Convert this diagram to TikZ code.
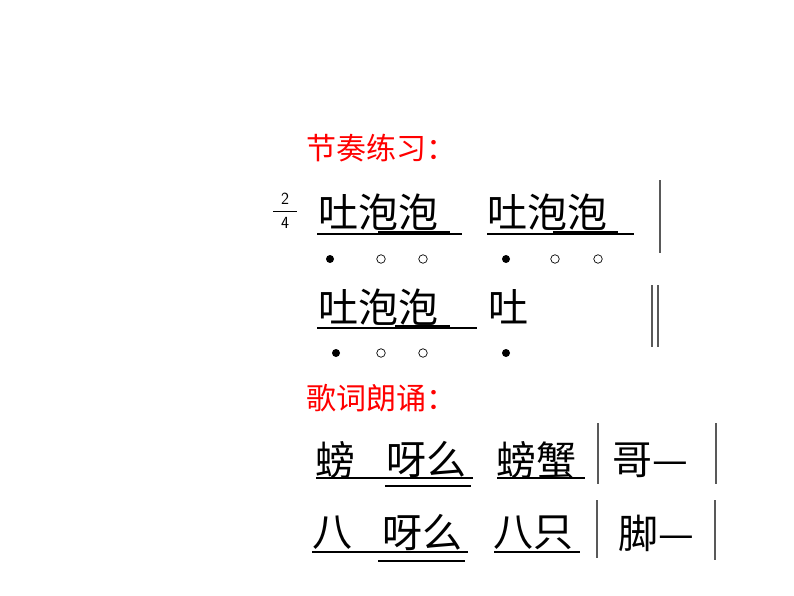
\documentclass[tikz,border=0pt]{standalone}
\usepackage{fontspec}
\newfontfamily\cjk{Noto Sans CJK SC}
\begin{document}
\begin{tikzpicture}[x=1pt,y=-1pt,
  big/.style={inner sep=0pt,anchor=west,font=\cjk\fontsize{40}{40}\selectfont},
  ttl/.style={inner sep=0pt,anchor=west,text=red,font=\cjk\fontsize{30}{30}\selectfont},
  ul/.style={line width=1.3pt},
  tk/.style={line width=2.6pt},
  bar/.style={line width=1.2pt,gray!70!black},
  fd/.style={circle,fill=black,inner sep=0pt,minimum size=8pt},
  od/.style={circle,draw=black,line width=0.7pt,inner sep=0pt,minimum size=8.5pt}]
\useasboundingbox (0,0) rectangle (794,596);
\node[ttl] (t1) at (306,148) {节奏练习：};
\node[inner sep=0pt,font=\sffamily\fontsize{17}{17}\selectfont] (n2) at (285,199) {2};
\node[inner sep=0pt,font=\sffamily\fontsize{17}{17}\selectfont] (n4) at (285,223) {4};
\draw[line width=0.8pt] (273,211) -- (297,211);
% row 1
\node[big] (a1) at (318,212) {吐泡泡};
\node[big] (a2) at (487,212) {吐泡泡};
\draw[ul] (317,234) -- (462,234); \draw[tk] (378,232) -- (450,232);
\draw[ul] (487,234) -- (634,234); \draw[tk] (553,232) -- (618,232);
\draw[bar] (660,180) -- (660,253);
\node[fd] (d1) at (330,259) {}; \node[od] (d2) at (381,259) {}; \node[od] (d3) at (423,259) {};
\node[fd] (d4) at (506,259) {}; \node[od] (d5) at (555,259) {}; \node[od] (d6) at (598,259) {};
% row 2
\node[big] (b1) at (318,307) {吐泡泡};
\node[big] (b2) at (488,307) {吐};
\draw[ul] (317,328) -- (477,328); \draw[tk] (395,326) -- (450,326);
\draw[bar] (652,285) -- (652,347); \draw[bar] (658,285) -- (658,347);
\node[fd] (e1) at (336,353) {}; \node[od] (e2) at (381,353) {}; \node[od] (e3) at (423,353) {};
\node[fd] (e4) at (506,353) {};
% lyrics
\node[ttl] (t2) at (306,398) {歌词朗诵：};
\node[big] (l1) at (315,460) {螃};
\node[big] (l2) at (386,460) {呀么};
\node[big] (l3) at (496,460) {螃蟹};
\node[big] (l4) at (612,460) {哥—};
\draw[ul] (316,478) -- (473,478); \draw[ul] (385,486) -- (471,486);
\draw[ul] (497,478) -- (585,478);
\draw[bar] (598,423) -- (598,484); \draw[bar] (716,423) -- (716,484);
\node[big] (m1) at (312,533) {八};
\node[big] (m2) at (382,533) {呀么};
\node[big] (m3) at (493,533) {八只};
\node[big] (m4) at (618,533) {脚—};
\draw[ul] (312,552) -- (468,552); \draw[ul] (378,561) -- (465,561);
\draw[ul] (494,552) -- (580,552);
\draw[bar] (597,500) -- (597,558); \draw[bar] (715,500) -- (715,560);
\end{tikzpicture}
\end{document}
